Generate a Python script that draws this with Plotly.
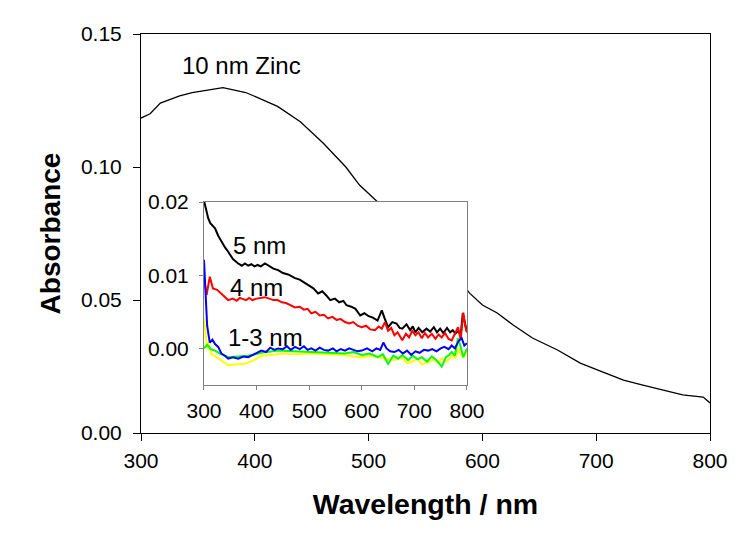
import plotly.graph_objects as go

# ---- main spectrum (10 nm Zinc) ----
main_wl = [300, 308, 317, 326, 334, 345, 358, 372, 381, 392, 402, 420, 440, 460, 480, 492, 507,
           520, 540, 560, 580, 589, 600, 613, 627, 644, 666, 686, 706, 724, 741, 759, 776, 794, 800]
main_abs = [0.1184, 0.1200, 0.1240, 0.1255, 0.1267, 0.1280, 0.1290, 0.1298, 0.1290, 0.1280, 0.1262,
            0.1228, 0.1170, 0.1090, 0.1000, 0.0932, 0.0872, 0.0820, 0.0745, 0.0665, 0.0572, 0.0525,
            0.0481, 0.0451, 0.0406, 0.0357, 0.0312, 0.0263, 0.0229, 0.0199, 0.0180, 0.0162, 0.0143,
            0.0135, 0.0113]

# ---- inset spectra ----
wl5 = [300, 304, 308, 312, 316, 321, 327, 333, 340, 346, 355, 365, 372, 378, 384, 390, 396, 402,
       408, 416, 424, 432, 441, 450, 460, 473, 482, 492, 500, 508, 517, 525, 533, 540, 549, 557,
       565, 571, 580, 588, 597, 605, 613, 621, 630, 638, 644, 650, 658, 666, 672, 677, 685, 692,
       697, 702, 708, 715, 723, 730, 737, 743, 749, 755, 762, 768, 773, 778, 783, 788, 792, 796,
       800]
ab5 = [0.0202, 0.0188, 0.0178, 0.0171, 0.0168, 0.0164, 0.0154, 0.0146, 0.0138, 0.0132, 0.0122,
       0.0116, 0.0113, 0.0116, 0.0113, 0.0115, 0.0112, 0.0114, 0.0112, 0.0116, 0.0112, 0.0109,
       0.0107, 0.0103, 0.0101, 0.0096, 0.0094, 0.0089, 0.0086, 0.0082, 0.0075, 0.0078, 0.0072,
       0.0066, 0.0068, 0.0063, 0.0065, 0.0059, 0.0057, 0.0054, 0.0045, 0.0048, 0.0044, 0.0042,
       0.0038, 0.0052, 0.0040, 0.0029, 0.0036, 0.0034, 0.0028, 0.0027, 0.0033, 0.0025, 0.0030,
       0.0022, 0.0028, 0.0022, 0.0027, 0.0023, 0.0029, 0.0022, 0.0027, 0.0021, 0.0028, 0.0022,
       0.0025, 0.0020, 0.0024, 0.0018, 0.0048, 0.0036, 0.0022]

wl4 = [300, 305, 311, 317, 325, 333, 340, 346, 355, 362, 368, 373, 380, 386, 392, 400, 408, 416,
       424, 432, 440, 448, 456, 465, 473, 482, 490, 497, 504, 512, 520, 528, 536, 544, 552, 560,
       568, 576, 584, 592, 600, 608, 616, 625, 632, 638, 644, 650, 656, 662, 668, 677, 684, 690,
       696, 702, 708, 714, 720, 726, 733, 740, 746, 752, 758, 765, 771, 777, 783, 788, 793, 797,
       800]
ab4 = [0.0096, 0.0073, 0.0098, 0.0082, 0.0080, 0.0075, 0.0070, 0.0066, 0.0068, 0.0065, 0.0069,
       0.0068, 0.0066, 0.0069, 0.0066, 0.0068, 0.0069, 0.0070, 0.0068, 0.0066, 0.0066, 0.0063,
       0.0062, 0.0059, 0.0056, 0.0057, 0.0053, 0.0054, 0.0048, 0.0050, 0.0045, 0.0046, 0.0041,
       0.0043, 0.0039, 0.0040, 0.0036, 0.0034, 0.0036, 0.0031, 0.0029, 0.0031, 0.0026, 0.0025,
       0.0030, 0.0027, 0.0036, 0.0024, 0.0028, 0.0018, 0.0022, 0.0011, 0.0020, 0.0015, 0.0024,
       0.0018, 0.0022, 0.0014, 0.0021, 0.0015, 0.0020, 0.0013, 0.0019, 0.0015, 0.0021, 0.0013,
       0.0011, 0.0020, 0.0029, 0.0012, 0.0049, 0.0030, 0.0022]

wl3 = [300, 303, 306, 311, 316, 321, 327, 333, 340, 346, 355, 365, 375, 384, 395, 409, 418, 426,
       434, 441, 450, 458, 465, 473, 482, 490, 497, 504, 512, 520, 528, 536, 545, 552, 560, 568,
       576, 584, 592, 600, 610, 620, 628, 635, 641, 647, 654, 662, 670, 678, 686, 694, 702, 710,
       718, 726, 734, 742, 750, 757, 765, 771, 777, 784, 790, 795, 800]
ab3 = [0.0121, 0.0070, 0.0031, 0.0008, 0.0012, 0.0006, 0.0002, -0.0007, -0.0010, -0.0014,
       -0.0012, -0.0014, -0.0011, -0.0012, -0.0008, -0.0003, -0.0005, 0.0001, -0.0002, 0.0000,
       -0.0001, 0.0003, -0.0002, 0.0002, -0.0001, 0.0003, -0.0002, 0.0000, -0.0003, 0.0001,
       -0.0002, -0.0003, 0.0000, -0.0004, -0.0001, -0.0003, 0.0000, -0.0002, -0.0004, -0.0003,
       0.0000, -0.0004, 0.0000, -0.0002, 0.0008, 0.0000, -0.0004, -0.0005, -0.0002, -0.0007,
       -0.0003, -0.0009, -0.0004, -0.0006, -0.0002, -0.0003, -0.0001, -0.0004, 0.0000, 0.0002,
       -0.0001, 0.0004, 0.0000, 0.0010, 0.0014, 0.0004, 0.0007]

wl2 = [300, 306, 313, 321, 333, 346, 365, 384, 409, 441, 470, 504, 530, 568, 584, 600, 615, 631,
       640, 650, 660, 669, 677, 688, 697, 706, 714, 724, 733, 742, 752, 760, 766, 771, 777, 783,
       788, 793, 800]
ab2 = [0.0000, 0.0005, -0.0001, -0.0003, -0.0008, -0.0012, -0.0011, -0.0010, -0.0006, -0.0003,
       -0.0004, -0.0005, -0.0006, -0.0007, -0.0005, -0.0009, -0.0007, -0.0012, -0.0008, -0.0021,
       -0.0010, -0.0014, -0.0009, -0.0016, -0.0010, -0.0015, -0.0012, -0.0018, -0.0011, -0.0016,
       -0.0025, -0.0012, -0.0009, -0.0005, -0.0010, 0.0014, 0.0002, -0.0012, 0.0000]

wl1 = [300, 304, 306, 308, 314, 322, 333, 346, 360, 378, 395, 409, 428, 448, 475, 504, 535, 568,
       584, 600, 615, 631, 645, 662, 675, 686, 694, 705, 715, 726, 738, 745, 752, 762, 771, 778,
       783, 788, 793, 800]
ab1 = [0.0042, 0.0015, 0.0000, 0.0008, -0.0008, -0.0011, -0.0016, -0.0023, -0.0022, -0.0021,
       -0.0016, -0.0010, -0.0009, -0.0007, -0.0008, -0.0007, -0.0008, -0.0009, -0.0011, -0.0012,
       -0.0010, -0.0012, -0.0014, -0.0016, -0.0012, -0.0020, -0.0019, -0.0014, -0.0022, -0.0019,
       -0.0015, -0.0020, -0.0014, -0.0018, -0.0010, -0.0013, 0.0000, -0.0008, -0.0012, -0.0005]

x_ticks = [300, 400, 500, 600, 700, 800]
y_ticks_main = [0.00, 0.05, 0.10, 0.15]
y_ticks_inset = [0.00, 0.01, 0.02]

FONT = "Liberation Sans, Arial, sans-serif"

fig = go.Figure()
fig.add_trace(go.Scatter(x=main_wl, y=main_abs, mode="lines",
                         line=dict(color="black", width=1.3), xaxis="x", yaxis="y"))

inset_series = [
    (wl5, ab5, "black"),
    (wl4, ab4, "#FF0000"),
    (wl1, ab1, "#FFFF00"),
    (wl2, ab2, "#00FF00"),
    (wl3, ab3, "#0000FF"),
]
for wx, ay, col in inset_series:
    fig.add_trace(go.Scatter(x=wx, y=ay, mode="lines", line=dict(color=col, width=2),
                             xaxis="x2", yaxis="y2"))

fig.update_layout(
    width=750, height=534,
    margin=dict(l=133, r=48, t=26, b=109),
    paper_bgcolor="white", plot_bgcolor="white",
    showlegend=False,
    font=dict(family=FONT, color="black", size=21),
    xaxis=dict(domain=[0, 1], range=[300, 800], tickvals=x_ticks, ticks="outside", ticklen=7,
               tickcolor="black", linecolor="black", linewidth=1, mirror=True, showgrid=False,
               zeroline=False, tickfont=dict(size=21), ticklabelstandoff=2,
               title=dict(text="<b>Wavelength / nm</b>", font=dict(size=28.5), standoff=22)),
    yaxis=dict(domain=[0, 1], range=[0, 0.15], tickvals=y_ticks_main, tickformat=".2f",
               ticks="outside", ticklen=7, tickcolor="black", linecolor="black", linewidth=1,
               mirror=True, showgrid=False, zeroline=False, tickfont=dict(size=21),
               ticklabelstandoff=7,
               title=dict(text="<b>Absorbance</b>", font=dict(size=28), standoff=12)),
    xaxis2=dict(domain=[0.1107, 0.5729], anchor="y2", range=[300, 800], tickvals=x_ticks,
                ticks="outside", ticklen=4, tickcolor="#808080", linecolor="#808080",
                linewidth=1, mirror=True, showgrid=False, zeroline=False,
                tickfont=dict(size=21), ticklabelstandoff=3),
    yaxis2=dict(domain=[0.1203, 0.5789], anchor="x2", range=[-0.005, 0.02],
                tickvals=y_ticks_inset, tickformat=".2f", ticks="outside", ticklen=4,
                tickcolor="#808080", linecolor="#808080", linewidth=1, mirror=True,
                showgrid=False, zeroline=False, tickfont=dict(size=21), ticklabelstandoff=6),
    annotations=[
        dict(text="10 nm Zinc", x=334, y=0.1383, xref="x", yref="y", xanchor="left",
             yanchor="middle", showarrow=False, font=dict(size=24)),
        dict(text="5 nm", x=352, y=0.0141, xref="x2", yref="y2", xanchor="left",
             yanchor="middle", showarrow=False, font=dict(size=24)),
        dict(text="4 nm", x=346, y=0.0083, xref="x2", yref="y2", xanchor="left",
             yanchor="middle", showarrow=False, font=dict(size=24)),
        dict(text="1-3 nm", x=342, y=0.0015, xref="x2", yref="y2", xanchor="left",
             yanchor="middle", showarrow=False, font=dict(size=24)),
    ],
)

fig.write_html("out.html")
